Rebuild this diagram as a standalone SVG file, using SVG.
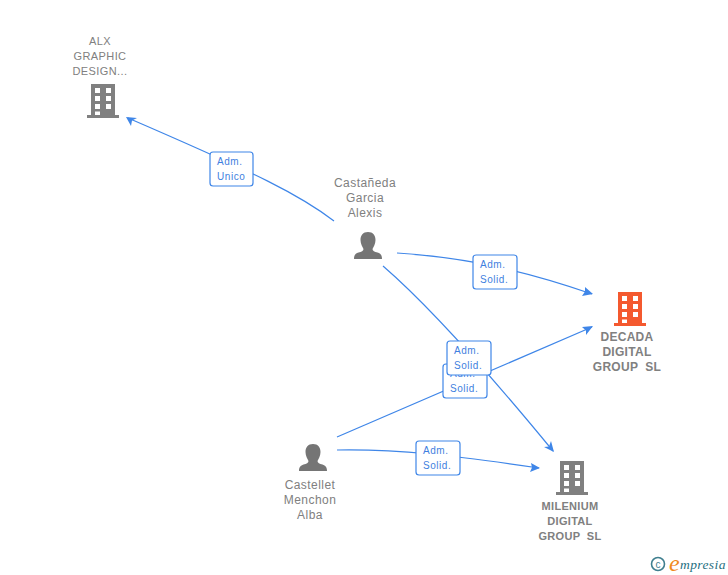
<svg xmlns="http://www.w3.org/2000/svg" width="728" height="575" viewBox="0 0 728 575">
<style>
.l{fill:none;stroke:#3f86e8;stroke-width:1.2}
.a{fill:#3f86e8}
.t{font-family:"Liberation Sans",Arial,sans-serif;font-size:12px;fill:#808080;text-anchor:middle;letter-spacing:.45px;white-space:pre}
.s{font-size:11px;letter-spacing:.4px}
.b{font-weight:bold;letter-spacing:.3px}
.c{font-family:"Liberation Sans",Arial,sans-serif;font-size:10px;fill:#3f7fe0;letter-spacing:.55px}
.box{fill:#fff;stroke:#3f86e8;stroke-width:1.2}
</style>
<defs>
<g id="bld"><path fill-rule="evenodd" d="M4 0H28V31H32V34H0V31H4ZM8 4V9H13V4ZM19 4V9H24V4ZM8 12V17H13V12ZM19 12V17H24V12ZM8 20V25H13V20ZM19 20V25H24V20ZM8 27.500V31H13V27.500Z"/></g>
<path id="per" d="M14 0C19 0 21.500 3.500 21.500 8C21.500 12 19.500 15 18.500 17C18.500 19 20.500 19.800 23.500 20.500C26.500 21.500 28 23 28 27H0C0 23 1.500 21.500 4.500 20.500C7.500 19.800 9.500 19 9.500 17C8.500 15 6.500 12 6.500 8C6.500 3.500 9 0 14 0Z"/>
</defs>
<g id="connectors">
<path class="l" d="M334 221C300 195 260 175 128 118"/>
<path class="a" d="M126 117L137 118L132 120.500L131 126Z"/>
<path class="l" d="M397 253C440 256 500 262 592 294"/>
<path class="a" d="M593 294L582 296L585 291.500L585 287Z"/>
<path class="l" d="M383 266C420 298 470 350 553 451"/>
<path class="a" d="M554 452L544 447L549 446.500L551 441Z"/>
<path class="l" d="M337 437L592 327"/>
<path class="a" d="M593 326L586 335L586 330.500L582 327Z"/>
<path class="l" d="M337 450C400 449 450 455 539 468"/>
<path class="a" d="M540 468L530 472L532 467.500L531 463Z"/>
</g>
<g id="edge-labels">
<rect class="box" x="210" y="152" width="43" height="34" rx="3"/><text class="c" x="217" y="165">Adm.</text><text class="c" x="217" y="180">Unico</text>
<rect class="box" x="473" y="255" width="44" height="34" rx="3"/><text class="c" x="480" y="268">Adm.</text><text class="c" x="480" y="283">Solid.</text>
<rect class="box" x="443" y="364" width="44" height="34" rx="3"/><text class="c" x="450" y="377">Adm.</text><text class="c" x="450" y="392">Solid.</text>
<rect class="box" x="447" y="341" width="44" height="34" rx="3"/><text class="c" x="454" y="354">Adm.</text><text class="c" x="454" y="369">Solid.</text>
<rect class="box" x="416" y="441" width="44" height="34" rx="3"/><text class="c" x="423" y="454">Adm.</text><text class="c" x="423" y="469">Solid.</text>
</g>
<g id="node-alx"><text class="t s" x="100" y="45">ALX</text><text class="t s" x="100" y="60">GRAPHIC</text><text class="t s" x="100" y="75">DESIGN...</text><use href="#bld" x="87" y="84" fill="#808080"/></g>
<g id="node-castaneda"><text class="t" x="365" y="187">Castañeda</text><text class="t" x="365" y="202">Garcia</text><text class="t" x="365" y="217">Alexis</text><use href="#per" x="354" y="232" fill="#757575"/></g>
<g id="node-decada"><use href="#bld" x="614" y="292" fill="#f4592f"/><text class="t b" x="627" y="341">DECADA</text><text class="t b" x="627" y="356">DIGITAL</text><text class="t b" x="627" y="371">GROUP  SL</text></g>
<g id="node-castellet"><use href="#per" x="299" y="444" fill="#757575"/><text class="t" x="310" y="489">Castellet</text><text class="t" x="310" y="504">Menchon</text><text class="t" x="310" y="519">Alba</text></g>
<g id="node-milenium"><use href="#bld" x="556" y="461" fill="#808080"/><text class="t s b" x="570" y="510">MILENIUM</text><text class="t s b" x="570" y="525">DIGITAL</text><text class="t s b" x="570" y="540">GROUP  SL</text></g>
<g id="logo"><circle cx="658" cy="564" r="6.500" fill="none" stroke="#3f7f8f" stroke-width="1.600"/><text x="658" y="567.500" font-family="Liberation Sans,sans-serif" font-size="10" fill="#3f7f8f" text-anchor="middle">c</text><text x="669" y="571" font-family="Liberation Serif,serif" font-style="italic" font-size="24" fill="#f08a1d">e</text><text x="680" y="569" font-family="Liberation Serif,serif" font-style="italic" font-size="13.500" fill="#1f6f80" letter-spacing=".4">mpresia</text></g>
</svg>
